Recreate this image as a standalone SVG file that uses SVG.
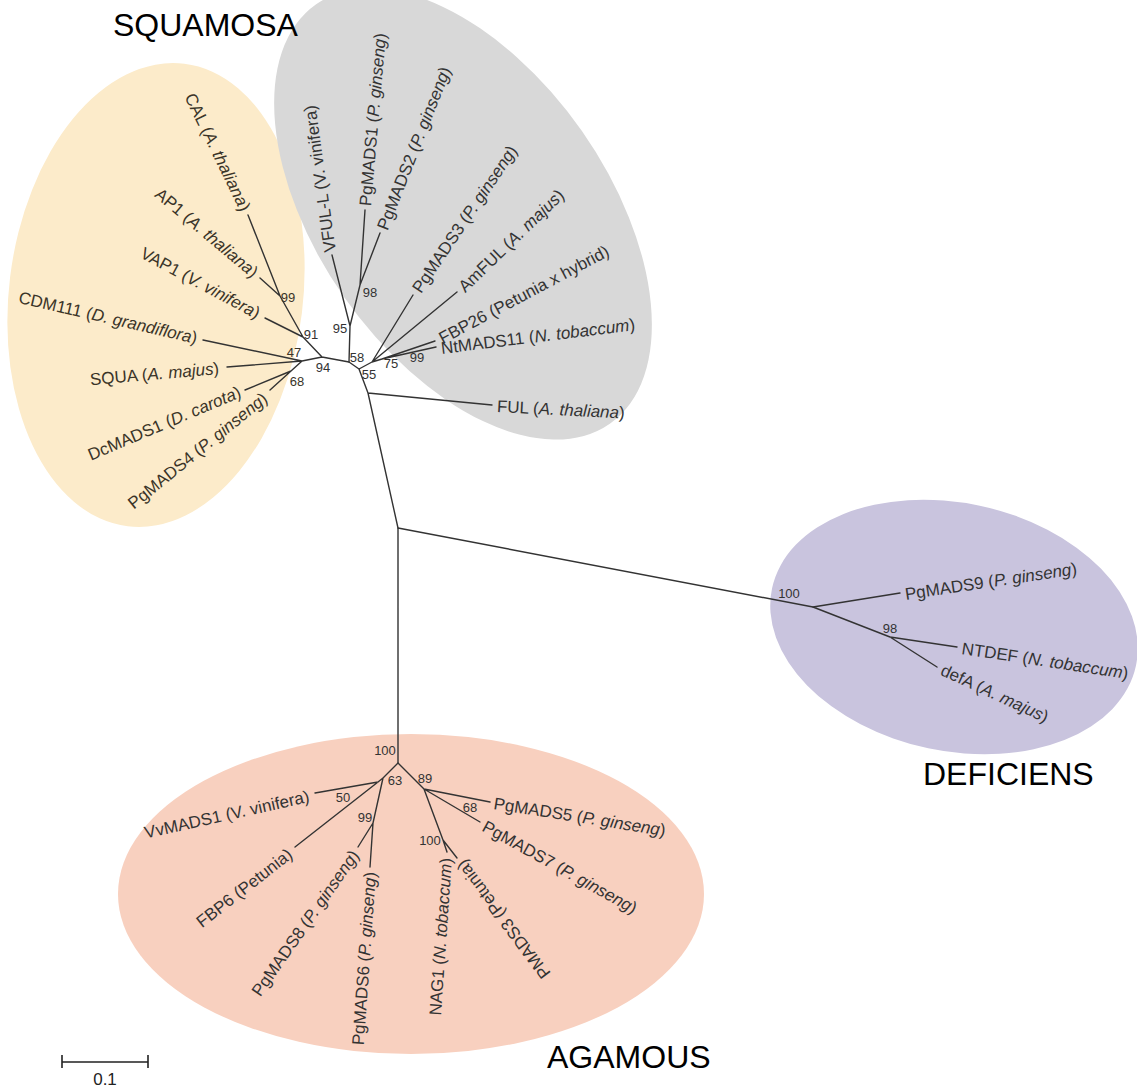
<svg xmlns="http://www.w3.org/2000/svg" width="1137" height="1087" viewBox="0 0 1137 1087">
<style>
text{font-family:"Liberation Sans",Arial,sans-serif}
.lf{font-size:17px;fill:#333}
.ly{font-size:17px;fill:#3a3428}
.bs{font-size:13px;fill:#333;text-anchor:middle}
.bsy{font-size:13px;fill:#3a3428;text-anchor:middle}
.ti{font-size:32px;fill:#000}
.e{text-anchor:end}
.it{font-style:italic}
.br{stroke:#333;stroke-width:1.4;fill:none;stroke-linecap:round}
</style>
<rect width="1137" height="1087" fill="#fff"/>
<g id="clades">
<ellipse id="clade-squamosa-a" cx="156" cy="295" rx="147" ry="233" transform="rotate(7 156 295)" fill="#FCEBCA"/>
<ellipse id="clade-squamosa-b" cx="463" cy="214" rx="256" ry="145" transform="rotate(55 463 214)" fill="#D8D8D8"/>
<ellipse id="clade-deficiens" cx="954" cy="627" rx="186" ry="124" transform="rotate(12 954 627)" fill="#C9C4DE"/>
<ellipse id="clade-agamous" cx="411" cy="894" rx="293" ry="160" fill="#F8D0BF"/>
</g>
<g id="branches" class="br">
<path d="M280,296L248,215M280,296L260,278M303,337L280,296M303,337L265,318M322,357L303,337M302,361L322,357M302,361L203,340M302,361L227,367M302,361L291,371M291,371L245,390M291,371L270,390M322,357L349,362"/>
<path d="M349,362L350,326M350,326L332,255M350,326L360,285M360,285L365,210M360,285L380,233M349,362L359,369M359,369L372,362M372,362L413,295M372,362L457,292M372,362L382,359M382,359L435,341M382,359L436,347M359,369L368,393M368,393L492,405M368,393L398,528"/>
<path d="M398,528L813,607M398,528L398,763"/>
<path d="M813,607L900,593M813,607L890,637M890,637L957,647M890,637L937,667"/>
<path d="M398,763L383,778M383,778L378,782M378,782L315,793M378,782L295,847M383,778L373,823M373,823L358,847M373,823L370,867M398,763L424,789M424,789L490,802M424,789L480,822M424,789L443,840M443,840L447,852M443,840L457,858"/>
</g>
<g id="leaf-CAL"><text class="ly e" transform="translate(246 210) rotate(64)" dy=".35em">CAL (<tspan class="it">A. thaliana</tspan>)</text></g>
<g id="leaf-AP1"><text class="ly e" transform="translate(256 274) rotate(40)" dy=".35em">AP1 (<tspan class="it">A. thaliana</tspan>)</text></g>
<g id="leaf-VAP1"><text class="ly e" transform="translate(259 314) rotate(28)" dy=".35em">VAP1 (<tspan class="it">V. vinifera</tspan>)</text></g>
<g id="leaf-CDM111"><text class="ly e" transform="translate(197 338) rotate(13)" dy=".35em">CDM111 (<tspan class="it">D. grandiflora</tspan>)</text></g>
<g id="leaf-SQUA"><text class="ly e" transform="translate(219 368) rotate(-5)" dy=".35em">SQUA (<tspan class="it">A. majus</tspan>)</text></g>
<g id="leaf-DcMADS1"><text class="ly e" transform="translate(240 391) rotate(-23)" dy=".35em">DcMADS1 (<tspan class="it">D. carota</tspan>)</text></g>
<g id="leaf-PgMADS4"><text class="ly e" transform="translate(265 396) rotate(-39)" dy=".35em">PgMADS4 (<tspan class="it">P. ginseng</tspan>)</text></g>
<g id="leaf-VFUL-L"><text class="lf" transform="translate(330 252) rotate(-98)" dy=".35em">VFUL-L (V. vinifera)</text></g>
<g id="leaf-PgMADS1"><text class="lf" transform="translate(365 206) rotate(-85)" dy=".35em">PgMADS1 (<tspan class="it">P. ginseng</tspan>)</text></g>
<g id="leaf-PgMADS2"><text class="lf" transform="translate(382 229) rotate(-68.5)" dy=".35em">PgMADS2 (<tspan class="it">P. ginseng</tspan>)</text></g>
<g id="leaf-PgMADS3"><text class="lf" transform="translate(416 291) rotate(-56)" dy=".35em">PgMADS3 (<tspan class="it">P. ginseng</tspan>)</text></g>
<g id="leaf-AmFUL"><text class="lf" transform="translate(461 289) rotate(-44)" dy=".35em">AmFUL (<tspan class="it">A. majus</tspan>)</text></g>
<g id="leaf-FBP26"><text class="lf" transform="translate(440 339) rotate(-28)" dy=".35em">FBP26 (Petunia x hybrid)</text></g>
<g id="leaf-NtMADS11"><text class="lf" transform="translate(441 348) rotate(-7)" dy=".35em">NtMADS11 (<tspan class="it">N. tobaccum</tspan>)</text></g>
<g id="leaf-FUL"><text class="lf" transform="translate(497 406) rotate(3)" dy=".35em">FUL (<tspan class="it">A. thaliana</tspan>)</text></g>
<g id="leaf-PgMADS9"><text class="lf" transform="translate(905 594) rotate(-8.5)" dy=".35em">PgMADS9 (<tspan class="it">P. ginseng</tspan>)</text></g>
<g id="leaf-NTDEF"><text class="lf" transform="translate(962 648) rotate(8.6)" dy=".35em">NTDEF (<tspan class="it">N. tobaccum</tspan>)</text></g>
<g id="leaf-defA"><text class="lf" transform="translate(942 669) rotate(24.7)" dy=".35em">defA (<tspan class="it">A. majus</tspan>)</text></g>
<g id="leaf-VvMADS1"><text class="lf e" transform="translate(309 796) rotate(-12.6)" dy=".35em">VvMADS1 (V. vinifera)</text></g>
<g id="leaf-FBP6"><text class="lf e" transform="translate(290 852) rotate(-38)" dy=".35em">FBP6 (Petunia)</text></g>
<g id="leaf-PgMADS8"><text class="lf e" transform="translate(355 852) rotate(-55)" dy=".35em">PgMADS8 (<tspan class="it">P. ginseng</tspan>)</text></g>
<g id="leaf-PgMADS6"><text class="lf e" transform="translate(370 872) rotate(-86)" dy=".35em">PgMADS6 (<tspan class="it">P. ginseng</tspan>)</text></g>
<g id="leaf-PgMADS5"><text class="lf" transform="translate(494 803) rotate(9)" dy=".35em">PgMADS5 (<tspan class="it">P. ginseng</tspan>)</text></g>
<g id="leaf-PgMADS7"><text class="lf" transform="translate(484 825) rotate(29)" dy=".35em">PgMADS7 (<tspan class="it">P. ginseng</tspan>)</text></g>
<g id="leaf-NAG1"><text class="lf e" transform="translate(446 858) rotate(-86)" dy=".35em">NAG1 (<tspan class="it">N. tobaccum</tspan>)</text></g>
<g id="leaf-PMADS3"><text class="lf e" transform="translate(460 862) rotate(-127)" dy=".35em">PMADS3 (Petunia)</text></g>
<g id="bootstrap">
<text class="bsy" x="288" y="297" dy=".35em">99</text>
<text class="bs" x="311" y="334" dy=".35em">91</text>
<text class="bsy" x="294" y="352" dy=".35em">47</text>
<text class="bs" x="323" y="367" dy=".35em">94</text>
<text class="bsy" x="297" y="381" dy=".35em">68</text>
<text class="bs" x="340" y="328" dy=".35em">95</text>
<text class="bs" x="370" y="292" dy=".35em">98</text>
<text class="bs" x="357" y="357" dy=".35em">58</text>
<text class="bs" x="369" y="374" dy=".35em">55</text>
<text class="bs" x="391" y="363" dy=".35em">75</text>
<text class="bs" x="417" y="357" dy=".35em">99</text>
<text class="bs" x="789" y="593" dy=".35em">100</text>
<text class="bs" x="890" y="628" dy=".35em">98</text>
<text class="bs" x="385" y="750" dy=".35em">100</text>
<text class="bs" x="395" y="780" dy=".35em">63</text>
<text class="bs" x="343" y="797" dy=".35em">50</text>
<text class="bs" x="365" y="817" dy=".35em">99</text>
<text class="bs" x="425" y="778" dy=".35em">89</text>
<text class="bs" x="470" y="807" dy=".35em">68</text>
<text class="bs" x="430" y="840" dy=".35em">100</text>
</g>
<g id="titles">
<text class="ti" x="113" y="36">SQUAMOSA</text>
<text class="ti" x="923" y="785">DEFICIENS</text>
<text class="ti" x="547" y="1068">AGAMOUS</text>
</g>
<g id="scale-bar">
<path d="M62,1062H148M62,1055V1068M148,1055V1068" stroke="#222" stroke-width="1.6" fill="none"/>
<text x="105" y="1085" font-size="17" fill="#222" text-anchor="middle">0.1</text>
</g>
</svg>
